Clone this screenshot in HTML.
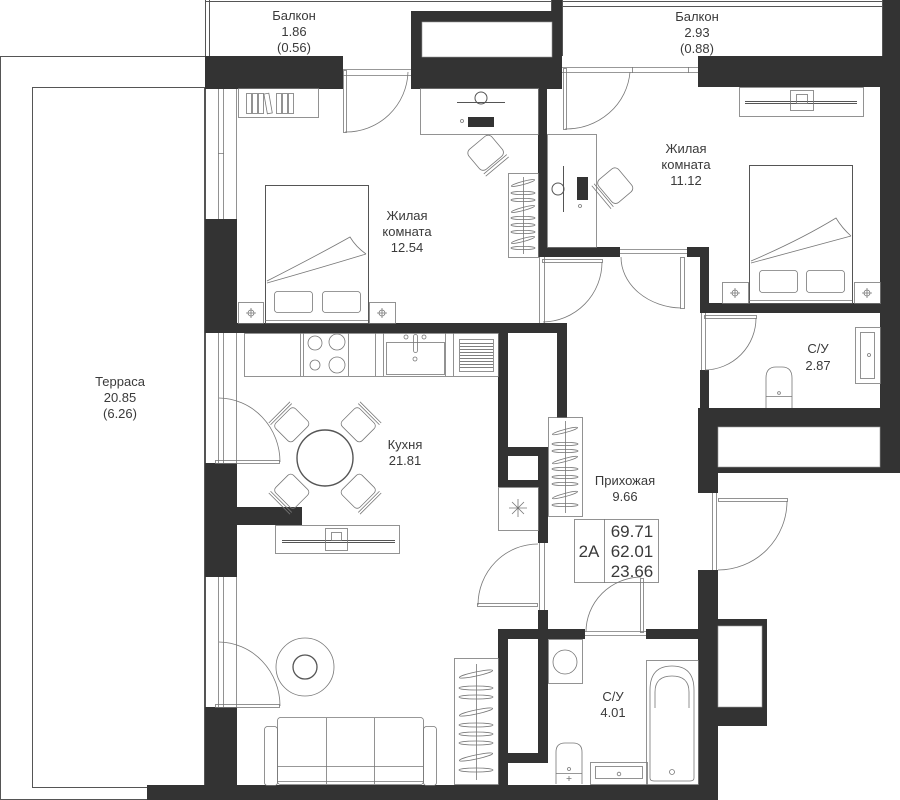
<!DOCTYPE html>
<html><head><meta charset="utf-8"><style>
html,body{margin:0;padding:0;background:#fff;}
svg{display:block}
text{font-family:"Liberation Sans",sans-serif;fill:#3a3a3a;font-size:13px;text-anchor:middle}
.l{fill:none;stroke:#555;stroke-width:1}
.t{fill:none;stroke:#777;stroke-width:0.8}
.w{fill:#333}
</style></head><body>
<svg width="900" height="800" viewBox="0 0 900 800" xmlns="http://www.w3.org/2000/svg">
<rect x="0" y="0" width="900" height="800" fill="#fff"/>

<!-- Terrace -->
<rect x="0.5" y="56.5" width="205" height="743" class="l" stroke="#777"/>
<rect x="32.5" y="87.5" width="172" height="700" class="l" stroke="#999"/>
<text x="120" y="386">Терраса</text>
<text x="120" y="402">20.85</text>
<text x="120" y="418">(6.26)</text>

<!-- Balconies -->
<path class="l" d="M205.5,0 V56 M209.5,0 V56 M205,1.5 H552 M551.5,0 V11"/>
<path class="l" d="M562.5,0 V56 M562,1.5 H883 M562,6.5 H883 M882.5,0 V56"/>
<text x="294" y="20">Балкон</text>
<text x="294" y="36">1.86</text>
<text x="294" y="52">(0.56)</text>
<text x="697" y="21">Балкон</text>
<text x="697" y="37">2.93</text>
<text x="697" y="53">(0.88)</text>

<!-- WALLS -->
<g class="w">
<rect x="205" y="56" width="138" height="33"/>
<rect x="411" y="11" width="151" height="78"/>
<rect x="552" y="0" width="10" height="11"/>
<rect x="698" y="56" width="202" height="31"/>
<rect x="883" y="0" width="17" height="56"/>
<rect x="880" y="56" width="20" height="414"/>
<rect x="205" y="219" width="32" height="114"/>
<rect x="205" y="463" width="32" height="114"/>
<rect x="205" y="507" width="97" height="18"/>
<rect x="205" y="707" width="32" height="80"/>
<rect x="147" y="785" width="571" height="15"/>
<rect x="205" y="323" width="362" height="10"/>
<rect x="538" y="87" width="9" height="170"/>
<rect x="538" y="247" width="82" height="10"/>
<rect x="687" y="247" width="21" height="10"/>
<rect x="700" y="247" width="9" height="66"/>
<rect x="700" y="303" width="200" height="10"/>
<rect x="700" y="370" width="9" height="40"/>
<rect x="698" y="408" width="202" height="65"/>
<rect x="698" y="408" width="20" height="85"/>
<rect x="698" y="570" width="20" height="230"/>
<rect x="718" y="619" width="49" height="107"/>
<rect x="498" y="333" width="10" height="154"/>
<rect x="557" y="333" width="10" height="85"/>
<rect x="538" y="408" width="29" height="10"/>
<rect x="538" y="408" width="10" height="135"/>
<rect x="498" y="447" width="50" height="9"/>
<rect x="498" y="480" width="50" height="7"/>
<rect x="538" y="610" width="10" height="153"/>
<rect x="498" y="629" width="87" height="10"/>
<rect x="646" y="629" width="72" height="10"/>
<rect x="498" y="629" width="10" height="156"/>
<rect x="498" y="753" width="50" height="10"/>
</g>
<!-- white holes in walls -->
<rect x="422" y="22" width="130" height="35" fill="#fff" stroke="#999" stroke-width="0.6"/>
<rect x="718" y="427" width="162" height="40" fill="#fff" stroke="#999" stroke-width="0.6"/>
<rect x="718" y="626" width="44" height="81" fill="#fff" stroke="#999" stroke-width="0.6"/>
<rect x="508" y="333" width="49" height="114" fill="#fff"/>
<rect x="508" y="456" width="30" height="24" fill="#fff"/>
<rect x="508" y="639" width="30" height="114" fill="#fff"/>
<rect x="508" y="408" width="30" height="39" fill="#fff"/>

<!-- Left windows -->
<g class="t">
<path d="M218.5,89 V219 M223.5,89 V219 M236.5,89 V219 M218,153.5 H224"/>
<path d="M218.5,333 V463 M223.5,333 V463 M236.5,333 V463"/>
<path d="M218.5,577 V707 M223.5,577 V707 M236.5,577 V707"/>
</g>

<!-- Door frames / leaves / arcs -->
<g class="t">
<path d="M343,69.5 H411 M343,75.5 H411"/>
<rect x="343.5" y="70.5" width="3" height="62"/>
<path d="M345,132 A62,62 0 0 0 408,72"/>
<path d="M562,67.5 H698 M562,72.5 H698 M632.5,67 V73 M688.5,67 V73"/>
<rect x="563.5" y="68.5" width="3" height="61"/>
<path d="M565,129 A64,62 0 0 0 630,72"/>
<path d="M539.5,257 V323 M544.5,257 V323"/>
<rect x="542.5" y="259.5" width="60" height="3"/>
<path d="M602,262 A60,60 0 0 1 543,322"/>
<path d="M620,249.5 H687 M620,253.5 H687"/>
<rect x="680.5" y="257.5" width="4" height="51"/>
<path d="M621,257 A62,51 0 0 0 681,308"/>
<path d="M701.5,313 V370 M705.5,313 V370"/>
<rect x="704.5" y="315.5" width="52" height="3"/>
<path d="M756,318 A52,52 0 0 1 705,370"/>
<path d="M712.5,493 V570 M716.5,493 V570"/>
<rect x="718.5" y="498.5" width="69" height="3"/>
<path d="M787,501 A69,69 0 0 1 718,570"/>
<path d="M539.5,543 V610 M544.5,543 V610"/>
<rect x="477.5" y="603.5" width="60" height="3"/>
<path d="M478,605 A60,61 0 0 1 538,544"/>
<path d="M585,631.5 H646 M585,635.5 H646"/>
<rect x="640.5" y="578.5" width="3" height="54"/>
<path d="M586,632 A56,55 0 0 1 641,577"/>
<rect x="215.5" y="460.5" width="64" height="3"/>
<path d="M219,398 A62,64 0 0 1 280,462"/>
<rect x="215.5" y="704.5" width="64" height="3"/>
<path d="M219,642 A62,64 0 0 1 280,706"/>
</g>

<!-- Bedroom 1 -->
<rect x="238.5" y="88.5" width="80" height="29" class="t"/>
<g class="t">
<rect x="246.5" y="93.5" width="5" height="20"/><rect x="252.5" y="93.5" width="5" height="20"/><rect x="258.5" y="93.5" width="5" height="20"/>
<rect x="265.5" y="93.5" width="5" height="20" transform="rotate(-10 268 103)"/>
<rect x="276.5" y="93.5" width="5" height="20"/><rect x="282.5" y="93.5" width="5" height="20"/><rect x="288.5" y="93.5" width="5" height="20"/>
</g>
<rect x="420.5" y="88.5" width="118" height="46" class="t"/>
<path class="l" d="M457,102.5 H505"/>
<circle cx="481" cy="98" r="6" class="l"/>
<rect x="468" y="117" width="26" height="10" fill="#333"/>
<circle cx="462" cy="121" r="1.5" class="t"/>
<g transform="translate(485,152) rotate(-40)" class="t">
<rect x="-15" y="-12" width="30" height="26" rx="5"/>
<path d="M-15,16 H15 M-15,19 H15"/>
</g>
<rect x="508.5" y="173.5" width="30" height="84" class="t"/>
<g class="t">
<path d="M523.5,177 V254"/>
<ellipse cx="523" cy="183" rx="12" ry="1.6" transform="rotate(-15 523 183)"/>
<ellipse cx="523" cy="193" rx="12" ry="1.6"/>
<ellipse cx="523" cy="200" rx="12" ry="1.6"/>
<ellipse cx="523" cy="209" rx="12" ry="1.6" transform="rotate(-15 523 209)"/>
<ellipse cx="523" cy="218" rx="12" ry="1.6"/>
<ellipse cx="523" cy="225" rx="12" ry="1.6"/>
<ellipse cx="523" cy="232" rx="12" ry="1.6"/>
<ellipse cx="523" cy="240" rx="12" ry="1.6" transform="rotate(-15 523 240)"/>
<ellipse cx="523" cy="248" rx="12" ry="1.6"/>
</g>
<rect x="265.5" y="185.5" width="103" height="138" class="l"/>
<path class="t" d="M267,283 Q320,268 366,254 M267,281 Q318,255 350,237 Q356,247 366,254 M265,320.5 H368"/>
<rect x="274.5" y="291.5" width="38" height="21" rx="3" class="t"/>
<rect x="322.5" y="291.5" width="38" height="21" rx="3" class="t"/>
<rect x="238.5" y="302.5" width="25" height="21" class="t"/>
<rect x="369.5" y="302.5" width="26" height="21" class="t"/>
<g class="t"><circle cx="251" cy="313" r="3"/><path d="M251,308 V318 M246,313 H256"/><circle cx="382" cy="313" r="3"/><path d="M382,308 V318 M377,313 H387"/></g>
<text x="407" y="220">Жилая</text>
<text x="407" y="236">комната</text>
<text x="407" y="252">12.54</text>

<!-- Bedroom 2 -->
<rect x="547.5" y="134.5" width="49" height="113" class="t"/>
<path class="l" d="M563.5,166 V212"/>
<circle cx="558" cy="189" r="6" class="l"/>
<rect x="577" y="177" width="11" height="23" fill="#333"/>
<circle cx="580" cy="206" r="1.5" class="t"/>
<g transform="translate(616,185) rotate(50)" class="t">
<rect x="-15" y="-12" width="30" height="26" rx="5"/>
<path d="M-15,16 H15 M-15,19 H15"/>
</g>
<rect x="739.5" y="87.5" width="124" height="29" class="t"/>
<path class="l" d="M745,103.5 H857 M745,101.5 H857"/>
<rect x="790.5" y="90.5" width="23" height="20" class="t"/>
<rect x="796.5" y="94.5" width="11" height="9" class="t"/>
<rect x="749.5" y="165.5" width="103" height="138" class="l"/>
<path class="t" d="M751,263 Q800,250 851,236 M751,261 Q800,240 836,218 Q842,228 851,236 M749,300.5 H852"/>
<rect x="759.5" y="270.5" width="38" height="22" rx="3" class="t"/>
<rect x="806.5" y="270.5" width="38" height="22" rx="3" class="t"/>
<rect x="722.5" y="282.5" width="26" height="21" class="t"/>
<rect x="854.5" y="282.5" width="26" height="21" class="t"/>
<g class="t"><circle cx="735" cy="293" r="3"/><path d="M735,288 V298 M730,293 H740"/><circle cx="867" cy="293" r="3"/><path d="M867,288 V298 M862,293 H872"/></g>
<text x="686" y="153">Жилая</text>
<text x="686" y="169">комната</text>
<text x="686" y="185">11.12</text>

<!-- СУ 2.87 -->
<rect x="855.5" y="327.5" width="25" height="56" class="t"/>
<rect x="860.5" y="332.5" width="14" height="46" class="t"/>
<circle cx="869" cy="355" r="1.5" class="t"/>
<path class="t" d="M766,408 V378 Q766,367 776,367 H782 Q792,367 792,378 V408 M766,396.5 H792"/>
<circle cx="779" cy="393" r="1.4" class="t"/>
<text x="818" y="353">С/У</text>
<text x="818" y="370">2.87</text>

<!-- Kitchen -->
<rect x="244.5" y="333.5" width="254" height="43" class="t"/>
<path class="t" d="M300.5,333 V376 M303.5,333 V376 M348.5,333 V376 M375.5,333 V376 M383.5,333 V376 M445.5,333 V376 M453.5,333 V376"/>
<g class="t"><circle cx="315" cy="343" r="7"/><circle cx="337" cy="342" r="8"/><circle cx="315" cy="365" r="5"/><circle cx="337" cy="365" r="8"/></g>
<rect x="386.5" y="342.5" width="58" height="32" class="t"/>
<rect x="413.5" y="334.5" width="4" height="18" rx="2" class="t"/>
<circle cx="406" cy="337" r="2" class="t"/><circle cx="424" cy="337" r="2" class="t"/><circle cx="415" cy="359" r="2" class="t"/>
<rect x="459.5" y="339.5" width="34" height="32" class="t"/>
<g stroke="#555" stroke-width="0.8">
<path d="M460,343.5 H493 M460,346.5 H493 M460,349.5 H493 M460,352.5 H493 M460,355.5 H493 M460,358.5 H493 M460,361.5 H493 M460,364.5 H493 M460,367.5 H493"/>
</g>
<circle cx="325" cy="458" r="28" fill="none" stroke="#555" stroke-width="1.4"/>
<g class="t">
<g transform="translate(290,423) rotate(-45)"><rect x="-14" y="-10" width="28" height="25" rx="4"/><path d="M-15,-15 H15 M-15,-12.5 H15"/></g>
<g transform="translate(360,423) rotate(45)"><rect x="-14" y="-10" width="28" height="25" rx="4"/><path d="M-15,-15 H15 M-15,-12.5 H15"/></g>
<g transform="translate(290,493) rotate(-135)"><rect x="-14" y="-10" width="28" height="25" rx="4"/><path d="M-15,-15 H15 M-15,-12.5 H15"/></g>
<g transform="translate(360,493) rotate(135)"><rect x="-14" y="-10" width="28" height="25" rx="4"/><path d="M-15,-15 H15 M-15,-12.5 H15"/></g>
</g>
<text x="405" y="449">Кухня</text>
<text x="405" y="465">21.81</text>
<rect x="275.5" y="525.5" width="124" height="28" class="t"/>
<path class="l" d="M282,540.5 H395 M282,542.5 H395"/>
<rect x="325.5" y="528.5" width="22" height="22" class="t"/>
<rect x="331.5" y="532.5" width="10" height="8" class="t"/>
<circle cx="305" cy="667" r="29" class="t"/>
<circle cx="305" cy="667" r="12" fill="none" stroke="#555" stroke-width="1.3"/>
<g class="t">
<rect x="264.5" y="726.5" width="13" height="59" rx="3"/>
<rect x="423.5" y="726.5" width="13" height="59" rx="3"/>
<rect x="277.5" y="717.5" width="146" height="67" rx="3"/>
<path d="M326.5,718 V784 M374.5,718 V784 M277,766.5 H423 M277,781.5 H423"/>
</g>
<rect x="454.5" y="658.5" width="44" height="126" class="t"/>
<g class="t">
<path d="M476.5,664 V780"/>
<ellipse cx="476" cy="674" rx="17" ry="2" transform="rotate(-12 476 674)"/>
<ellipse cx="476" cy="688" rx="17" ry="2"/>
<ellipse cx="476" cy="697" rx="17" ry="2"/>
<ellipse cx="476" cy="712" rx="17" ry="2" transform="rotate(-12 476 712)"/>
<ellipse cx="476" cy="725" rx="17" ry="2"/>
<ellipse cx="476" cy="734" rx="17" ry="2"/>
<ellipse cx="476" cy="743" rx="17" ry="2"/>
<ellipse cx="476" cy="757" rx="17" ry="2" transform="rotate(-12 476 757)"/>
<ellipse cx="476" cy="770" rx="17" ry="2"/>
</g>

<!-- Hallway -->
<rect x="498.5" y="487.5" width="40" height="43" class="t"/>
<path class="t" d="M518,499 V517 M509,508 H527 M512,502 L524,514 M524,502 L512,514"/>
<rect x="548.5" y="417.5" width="34" height="99" class="t"/>
<g class="t">
<path d="M565.5,421 V513"/>
<ellipse cx="565" cy="431" rx="13" ry="1.6" transform="rotate(-15 565 431)"/>
<ellipse cx="565" cy="444" rx="13" ry="1.6"/>
<ellipse cx="565" cy="451" rx="13" ry="1.6"/>
<ellipse cx="565" cy="460" rx="13" ry="1.6" transform="rotate(-15 565 460)"/>
<ellipse cx="565" cy="469" rx="13" ry="1.6"/>
<ellipse cx="565" cy="477" rx="13" ry="1.6"/>
<ellipse cx="565" cy="484" rx="13" ry="1.6"/>
<ellipse cx="565" cy="495" rx="13" ry="1.6" transform="rotate(-15 565 495)"/>
<ellipse cx="565" cy="505" rx="13" ry="1.6"/>
</g>
<text x="625" y="485">Прихожая</text>
<text x="625" y="501">9.66</text>
<rect x="574.5" y="519.5" width="84" height="63" class="t" stroke="#888"/>
<path class="t" d="M604.5,519 V583"/>
<text x="589" y="557" style="font-size:17px">2A</text>
<text x="632" y="537" style="font-size:17px">69.71</text>
<text x="632" y="557" style="font-size:17px">62.01</text>
<text x="632" y="577" style="font-size:17px">23.66</text>

<!-- СУ 4.01 -->
<rect x="548.5" y="639.5" width="34" height="44" class="t"/>
<circle cx="565" cy="662" r="12" class="t"/>
<rect x="646.5" y="660.5" width="52" height="124" class="t"/>
<path class="t" d="M650,778 V690 Q650,666 672,666 Q694,666 694,690 V778 Q694,781 690,781 H654 Q650,781 650,778 Z"/>
<path class="t" d="M655,708 V692 Q655,676 672,676 Q689,676 689,692 V708"/>
<circle cx="672" cy="772" r="2.5" class="t"/>
<path class="t" d="M556,784 V752 Q556,743 565,743 H573 Q582,743 582,752 V784 M556,773.5 H582"/>
<circle cx="569" cy="769" r="1.5" class="t"/><path class="t" d="M569,776 V781 M566.5,778.5 H571.5"/>
<rect x="590.5" y="762.5" width="57" height="22" class="t"/>
<rect x="595.5" y="766.5" width="47" height="12" class="t"/>
<circle cx="619" cy="774" r="1.8" class="t"/>
<text x="613" y="701">С/У</text>
<text x="613" y="717">4.01</text>
</svg>
</body></html>
